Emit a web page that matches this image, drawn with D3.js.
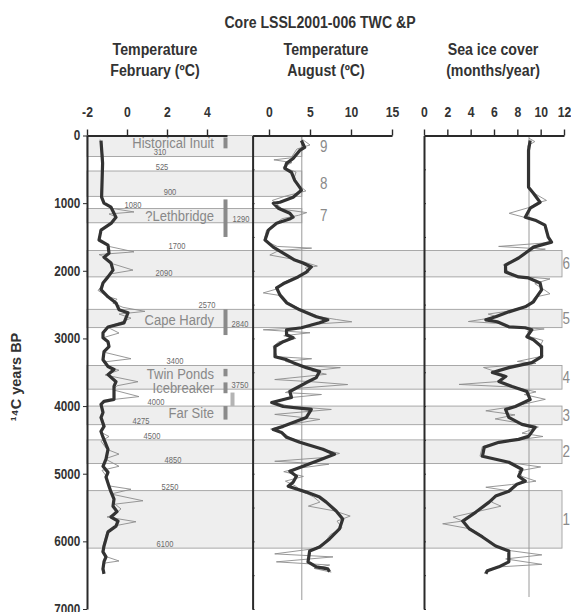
<!DOCTYPE html>
<html>
<head>
<meta charset="utf-8" />
<script src="https://d3js.org/d3.v7.min.js"></script>
<style>
  body { margin: 0; background: #fff; }
  svg text { font-family: "Liberation Sans Narrow", "Arial Narrow", "Liberation Sans", sans-serif; }
  .axis path, .axis line { stroke: #2a2a2a; }
  .axis text { font-weight: bold; fill: #333; }
</style>
</head>
<body>
<div id="chart"></div>
<script>
// ---- data ----
// February temperature (ºC): smoothed and raw
const febYears = [75, 410, 910, 1000, 1060, 1210, 1300, 1400, 1545, 1620, 1740, 1800, 1885, 1990, 2090, 2180, 2280, 2385, 2475, 2575, 2620, 2770, 2830, 2915, 2990, 3050, 3120, 3195, 3315, 3415, 3460, 3535, 3640, 3710, 3900, 3930, 3975, 4095, 4170, 4300, 4375, 4460, 4640, 4785, 4890, 4980, 5050, 5185, 5270, 5375, 5480, 5560, 5640, 5700, 5775, 5860, 6070, 6155, 6230, 6300, 6405, 6480];
const febSmooth = [-1.3, -1.22, -1.27, -1.15, -0.8, -0.55, -0.8, -1.3, -1.4, -0.95, -0.9, -1.15, -0.8, -0.7, -0.95, -1.2, -1.3, -0.95, -0.55, -0.4, 0.05, -0.15, -0.95, -1.2, -1.2, -0.95, -0.9, -1.15, -1.2, -0.95, -0.65, -0.95, -0.55, -0.65, -0.65, -1.15, -1.3, -1.2, -1.3, -1.15, -1.3, -1.2, -0.95, -1.05, -1.2, -0.95, -1.05, -0.9, -0.8, -0.65, -0.7, -0.5, -0.8, -0.45, -0.55, -0.95, -1.15, -1.2, -1.05, -1.15, -1.2, -1.15];
const febRawYears = [60, 300, 600, 900, 1000, 1080, 1130, 1160, 1210, 1300, 1400, 1550, 1640, 1720, 1760, 1800, 1880, 1990, 2050, 2100, 2200, 2290, 2380, 2420, 2480, 2540, 2600, 2640, 2700, 2760, 2830, 2920, 2990, 3060, 3120, 3200, 3300, 3350, 3420, 3470, 3540, 3640, 3700, 3760, 3860, 3920, 3980, 4100, 4170, 4300, 4380, 4450, 4520, 4640, 4710, 4780, 4890, 4950, 5050, 5180, 5230, 5300, 5400, 5450, 5520, 5600, 5640, 5710, 5770, 5860, 6070, 6160, 6230, 6290, 6320, 6410, 6480];
const febRaw = [-1.35, -1.2, -1.25, -1.3, -1.15, -0.7, 0.35, -0.9, -0.5, -0.85, -1.35, -1.4, -0.9, 0.35, -1.4, -1.1, -0.9, 0.3, -0.9, -1.0, -1.2, -1.45, -1.0, -0.5, -0.7, -0.2, 0.9, -0.4, 0.2, -0.3, -1.0, -0.4, -1.2, -0.9, -0.9, -1.2, 0.2, -1.2, -0.9, -0.4, -1.1, 0.55, -0.5, -0.7, 0.6, -1.2, -1.3, -1.2, -1.25, -1.1, -1.35, -0.9, -1.3, -1.0, -0.4, -1.1, -0.4, -1.25, -1.0, -0.9, 0.2, -0.8, 0.8, -0.6, -0.3, -0.6, -1.0, 0.45, -0.6, -1.0, -1.2, -1.25, -1.0, -0.4, -1.1, -1.25, -1.2];

// August temperature (ºC)
const augYears = [74, 177, 221, 339, 412, 486, 545, 663, 766, 810, 913, 987, 1001, 1075, 1149, 1208, 1230, 1296, 1399, 1546, 1650, 1738, 1841, 1885, 1944, 2018, 2091, 2180, 2253, 2356, 2474, 2577, 2680, 2725, 2769, 2842, 2872, 2946, 2990, 3049, 3122, 3270, 3314, 3358, 3432, 3490, 3579, 3652, 3785, 3873, 3947, 4006, 4050, 4168, 4300, 4345, 4389, 4462, 4536, 4639, 4713, 4816, 4889, 4963, 5037, 5125, 5184, 5272, 5346, 5420, 5552, 5670, 5817, 5965, 6083, 6141, 6303, 6377, 6406, 6450];
const augSmooth = [3.95, 4.35, 3.75, 2.94, 2.14, 1.93, 2.74, 3.14, 3.75, 3.95, 2.94, 1.33, 0.52, 1.13, 2.54, 2.94, 2.6, 0.93, -0.08, -0.48, 0.52, 1.73, 3.14, 4.15, 5.16, 4.56, 3.54, 1.93, 0.93, 1.33, 2.14, 3.75, 5.77, 7.17, 6.17, 3.95, 2.14, 2.14, 2.94, 1.73, 0.73, 0.73, 2.14, 2.94, 4.56, 6.17, 5.77, 4.56, 2.54, 2.74, 0.33, 1.73, 5.16, 4.56, 1.73, 0.52, 1.53, 2.14, 3.75, 6.57, 7.98, 5.77, 4.15, 2.54, 3.35, 2.94, 2.34, 4.56, 6.17, 6.98, 8.19, 8.99, 8.59, 7.38, 6.17, 4.96, 4.76, 5.77, 7.17, 7.38];
const augRawYears = [60, 140, 200, 330, 360, 400, 470, 540, 650, 760, 820, 900, 960, 1010, 1090, 1140, 1180, 1230, 1300, 1400, 1550, 1640, 1665, 1700, 1767, 1840, 1930, 1960, 2020, 2100, 2180, 2260, 2327, 2370, 2470, 2580, 2680, 2720, 2754, 2790, 2840, 2872, 2916, 2960, 3000, 3050, 3120, 3270, 3300, 3340, 3400, 3432, 3480, 3530, 3608, 3640, 3682, 3740, 3800, 3829, 3880, 3940, 4000, 4050, 4123, 4197, 4280, 4340, 4400, 4470, 4540, 4620, 4700, 4760, 4816, 4860, 4920, 4970, 5040, 5110, 5180, 5260, 5340, 5420, 5479, 5550, 5626, 5700, 5800, 5900, 5980, 6040, 6110, 6185, 6230, 6303, 6350, 6400, 6455];
const augRaw = [4.1, 5.0, 3.4, 2.7, 0.6, 2.8, 1.7, 3.3, 3.0, 3.9, 4.5, 1.9, 0.4, 1.0, 1.6, 4.6, 3.6, 1.6, 0.8, -0.3, -0.6, 1.0, 5.2, 1.2, 0.1, 3.4, 5.9, 4.4, 4.9, 3.1, 1.6, 1.2, -0.7, 1.6, 2.4, 4.0, 6.2, 8.2, 10.1, 5.2, 4.2, -0.7, 5.0, 1.8, 3.3, 1.2, 0.5, 1.0, 5.2, 2.0, 4.0, 8.7, 5.2, 7.0, 0.7, 5.2, 9.6, 3.2, 2.0, 6.4, 2.2, 0.5, 2.4, 7.6, 0.7, 6.2, 2.2, 0.2, 1.8, 2.6, 4.2, 5.8, 8.6, 6.8, 0.7, 7.3, 3.5, 1.8, 4.2, 2.0, 3.2, 4.0, 5.4, 6.2, 4.8, 8.0, 9.9, 8.3, 8.9, 7.5, 7.0, 6.6, 5.4, 0.7, 7.8, 0.9, 7.4, 5.5, 7.6];

// Sea ice cover (months/year)
const iceYears = [74, 221, 766, 854, 987, 1075, 1208, 1252, 1326, 1502, 1576, 1650, 1723, 1811, 1915, 2018, 2091, 2106, 2180, 2283, 2386, 2459, 2533, 2607, 2680, 2725, 2754, 2828, 2842, 2872, 2975, 3019, 3122, 3270, 3358, 3432, 3505, 3564, 3638, 3711, 3785, 3903, 4006, 4050, 4168, 4271, 4315, 4448, 4492, 4536, 4610, 4742, 4786, 4831, 4934, 5037, 5110, 5155, 5258, 5331, 5420, 5567, 5700, 5817, 5935, 6068, 6141, 6303, 6377, 6436, 6480];
const iceSmooth = [9.1, 8.96, 8.96, 9.38, 9.95, 9.1, 8.68, 9.53, 10.37, 10.65, 10.93, 9.38, 8.82, 8.11, 6.99, 6.99, 8.11, 8.96, 9.95, 10.08, 9.66, 9.38, 8.68, 7.27, 6.14, 5.3, 6.28, 7.27, 8.68, 9.24, 8.82, 9.38, 10.08, 10.08, 9.24, 7.27, 5.86, 6.99, 6.42, 7.55, 8.82, 9.1, 7.83, 6.99, 7.27, 8.39, 9.53, 8.96, 8.11, 6.42, 5.16, 5.01, 6.14, 7.27, 8.39, 8.11, 8.68, 7.97, 7.27, 6.14, 5.58, 4.45, 3.32, 3.89, 5.01, 6.14, 7.27, 7.27, 6.42, 5.44, 5.3];
const iceRawYears = [40, 90, 150, 300, 500, 770, 850, 960, 1000, 1060, 1150, 1200, 1260, 1330, 1500, 1580, 1640, 1680, 1720, 1800, 1910, 2010, 2080, 2120, 2190, 2280, 2340, 2390, 2460, 2530, 2600, 2640, 2680, 2720, 2750, 2780, 2830, 2860, 2890, 2970, 3030, 3120, 3260, 3340, 3370, 3430, 3500, 3560, 3640, 3680, 3720, 3790, 3830, 3900, 3970, 4010, 4070, 4130, 4190, 4260, 4310, 4400, 4450, 4500, 4540, 4600, 4740, 4790, 4840, 4900, 4960, 5040, 5110, 5160, 5200, 5260, 5330, 5420, 5480, 5570, 5640, 5700, 5740, 5820, 5930, 6070, 6140, 6200, 6260, 6340, 6380, 6430, 6480];
const iceRaw = [9.0, 9.5, 8.9, 9.0, 9.0, 9.0, 9.4, 10.5, 9.6, 9.1, 7.3, 8.4, 9.5, 10.3, 10.7, 11.0, 6.4, 10.4, 8.7, 8.2, 6.8, 7.2, 8.0, 10.8, 9.5, 10.3, 10.8, 9.5, 9.2, 8.6, 7.1, 5.5, 6.3, 4.9, 3.8, 6.5, 7.5, 10.3, 8.9, 9.0, 10.2, 9.9, 10.2, 8.0, 9.6, 5.1, 6.3, 7.2, 6.2, 3.0, 7.8, 9.6, 8.6, 10.4, 8.6, 7.5, 5.3, 7.8, 6.1, 8.5, 9.8, 8.4, 10.2, 8.0, 6.2, 5.0, 4.8, 6.4, 7.5, 10.0, 8.1, 8.4, 9.6, 7.5, 5.3, 7.5, 6.0, 5.8, 6.6, 4.3, 2.5, 3.3, 1.6, 4.1, 5.1, 6.0, 7.5, 10.1, 7.0, 10.1, 6.2, 5.3, 5.2];

// shaded intervals (14C years BP) and their numbers
const bandStart = [0, 525, 1080, 1700, 2570, 3400, 4000, 4500, 5250];
const bandEnd = [310, 900, 1290, 2090, 2840, 3750, 4275, 4850, 6100];
const bandNumber = ["9", "8", "7", "6", "5", "4", "3", "2", "1"];
const bandFull = [false, false, false, true, true, true, true, true, true];

// boundary ages written on the figure
const boundaryAges = [310, 525, 900, 1080, 1290, 1700, 2090, 2570, 2840, 3400, 3750, 4000, 4275, 4500, 4850, 5250, 6100];

// archaeological cultures: label age, occupation range
const cultureNames = ["Historical Inuit", "?Lethbridge", "Cape Hardy", "Twin Ponds", "Icebreaker", "Far Site"];
const cultureLabelAge = [105, 1180, 2725, 3510, 3730, 4094];
const cultureFrom = [30, 945, 2570, 3450, 3650, 4000];
const cultureTo = [190, 1500, 2950, 3560, 3810, 4200];
const extraRangeFrom = [3800];
const extraRangeTo = [4000];

// reference (modern) values
const augModern = 4;
const iceModern = 9;

// ---- layout ----
const W = 571, H = 612;
const NARROW = 0.84; // the figure uses a condensed face
const svg = d3.select("#chart").append("svg").attr("width", W).attr("height", H);

const y = d3.scaleLinear().domain([0, 7000]).range([135.5, 609]);
const xFeb = d3.scaleLinear().domain([-2, 5]).range([87, 227]);
const xAug = d3.scaleLinear().domain([-2, 15]).range([252.6, 392]);
const xIce = d3.scaleLinear().domain([0, 12]).range([424, 564]);

// label x positions for boundary ages (left panel)
const boundaryLabelX = [160, 162, 170, 133, 241, 177, 164, 207, 240, 175, 240, 156, 141, 152, 173, 170, 165];

// place a text at (x,y) squeezed horizontally
function place(sel, fx, fy, sx) {
  sel.attr("transform", (d, i) => `translate(${fx(d, i)},${fy(d, i)}) scale(${sx},1)`);
}

// bands
const bands = bandStart.map((s, i) => ({ s, e: bandEnd[i], n: bandNumber[i], full: bandFull[i] }));
svg.append("g").selectAll("rect").data(bands).enter().append("rect")
  .attr("x", xFeb(-2))
  .attr("y", d => y(d.s))
  .attr("width", d => (d.full ? 562 : xAug(augModern)) - xFeb(-2))
  .attr("height", d => y(d.e) - y(d.s))
  .attr("fill", "#eeeeee")
  .attr("stroke", "#a0a0a0")
  .attr("stroke-width", 0.9);

// band numbers
svg.append("g").selectAll("text").data(bands).enter().append("text")
  .call(place, d => d.full ? 562.5 : 320, d => y((d.s + d.e) / 2), NARROW)
  .attr("dy", "0.35em")
  .style("font-size", "16px")
  .attr("fill", "#8a8a8a")
  .text(d => d.n);

// boundary ages
svg.append("g").selectAll("text").data(boundaryAges).enter().append("text")
  .call(place, (d, i) => boundaryLabelX[i], d => y(d) - 1, NARROW)
  .attr("text-anchor", "middle")
  .style("font-size", "9px")
  .attr("fill", "#6a6a6a")
  .text(d => d);

// culture ranges and names
const cultures = cultureNames.map((n, i) => ({ n, a: cultureLabelAge[i], f: cultureFrom[i], t: cultureTo[i] }));
svg.append("g").selectAll("rect").data(cultures).enter().append("rect")
  .attr("x", 223.5).attr("width", 4)
  .attr("y", d => y(d.f))
  .attr("height", d => y(d.t) - y(d.f))
  .attr("fill", "#8a8a8a");
svg.append("g").selectAll("rect").data(extraRangeFrom).enter().append("rect")
  .attr("x", 230.5).attr("width", 4)
  .attr("y", d => y(d))
  .attr("height", (d, i) => y(extraRangeTo[i]) - y(d))
  .attr("fill", "#b4b4b4");
svg.append("g").selectAll("text").data(cultures).enter().append("text")
  .call(place, () => 214, d => y(d.a), 0.84)
  .attr("dy", "0.36em")
  .attr("text-anchor", "end")
  .style("font-size", "15.5px")
  .attr("fill", "#888")
  .text(d => d.n);

// modern reference lines
svg.append("line").attr("x1", xAug(augModern)).attr("x2", xAug(augModern))
  .attr("y1", y(0)).attr("y2", 600).attr("stroke", "#9a9a9a").attr("stroke-width", 1);
svg.append("line").attr("x1", xIce(iceModern)).attr("x2", xIce(iceModern))
  .attr("y1", y(0)).attr("y2", 597).attr("stroke", "#9a9a9a").attr("stroke-width", 1);

// series
function drawSeries(xs, yrs, vals, color, width) {
  const pts = d3.zip(yrs, vals);
  svg.append("path")
    .datum(pts)
    .attr("fill", "none")
    .attr("stroke", color)
    .attr("stroke-width", width)
    .attr("stroke-linejoin", "round")
    .attr("d", d3.line().x(d => xs(d[1])).y(d => y(d[0])));
}
drawSeries(xFeb, febRawYears, febRaw, "#8c8c8c", 0.9);
drawSeries(xFeb, febYears, febSmooth, "#333", 3.2);
drawSeries(xAug, augRawYears, augRaw, "#8c8c8c", 0.9);
drawSeries(xAug, augYears, augSmooth, "#333", 3.2);
drawSeries(xIce, iceRawYears, iceRaw, "#8c8c8c", 0.9);
drawSeries(xIce, iceYears, iceSmooth, "#333", 3.2);

// top axes
const axTop = 135.5;
function topAxis(scale, minorVals, majorVals, minorSize, majorSize) {
  const g = svg.append("g").attr("class", "axis").attr("transform", `translate(0,${axTop})`);
  g.call(d3.axisTop(scale).tickValues(minorVals).tickSize(minorSize).tickSizeOuter(0).tickFormat(""));
  g.call(d3.axisTop(scale).tickValues(majorVals).tickSize(majorSize).tickSizeOuter(0).tickPadding(13)
    .tickFormat(d => String(d)));
  g.select(".domain").attr("stroke-width", 2);
  g.selectAll(".tick line").attr("stroke-width", 1.4);
  g.selectAll("text").style("font-size", "14.5px").attr("transform", `scale(${NARROW},1)`);
}
topAxis(xFeb, d3.range(-2, 6), [-2, 0, 2, 4], 6, 6);
topAxis(xAug, d3.range(-2, 16), [0, 5, 10, 15], 3, 6);
topAxis(xIce, d3.range(0, 13), [0, 2, 4, 6, 8, 10, 12], 3, 6);

// left age axis
const yg = svg.append("g").attr("class", "axis").attr("transform", `translate(${xFeb(-2)},0)`);
yg.call(d3.axisLeft(y).tickValues(d3.range(0, 7001, 500)).tickSize(3).tickSizeOuter(0).tickFormat(""));
yg.call(d3.axisLeft(y).tickValues(d3.range(0, 7001, 1000)).tickSize(4).tickSizeOuter(0).tickPadding(4)
  .tickFormat(d => String(d)));
yg.select(".domain").attr("stroke-width", 2);
yg.selectAll("text").style("font-size", "14px").attr("transform", `scale(${NARROW},1)`);

// inner panel axes
[xAug(-2), xIce(0)].forEach(px => {
  const g = svg.append("g").attr("class", "axis").attr("transform", `translate(${px},0)`);
  g.call(d3.axisLeft(y).tickValues(d3.range(500, 7001, 500)).tickSize(2).tickSizeOuter(0).tickFormat(""));
  g.call(d3.axisRight(y).tickValues(d3.range(500, 7001, 500)).tickSize(2).tickSizeOuter(0).tickFormat(""));
  g.selectAll(".domain").attr("stroke-width", 2);
});

// titles
svg.append("text").attr("transform", `translate(320,28) scale(0.83,1)`).attr("text-anchor", "middle")
  .style("font-size", "17px").style("font-weight", "bold").attr("fill", "#333")
  .text("Core LSSL2001-006 TWC &P");
const heads = [
  [155, "Temperature", "February (ºC)"],
  [326, "Temperature", "August (ºC)"],
  [493, "Sea ice cover", "(months/year)"]
];
heads.forEach(h => {
  const t = svg.append("text").attr("transform", `translate(${h[0]},55) scale(0.86,1)`).attr("text-anchor", "middle")
    .style("font-size", "16.5px").style("font-weight", "bold").attr("fill", "#333");
  t.append("tspan").attr("x", 0).text(h[1]);
  t.append("tspan").attr("x", 0).attr("dy", 21).text(h[2]);
});
svg.append("text")
  .attr("transform", "translate(21,377) rotate(-90)")
  .attr("text-anchor", "middle")
  .style("font-size", "14.5px").style("font-weight", "bold").attr("fill", "#333")
  .text("¹⁴C years BP");
</script>
</body>
</html>
